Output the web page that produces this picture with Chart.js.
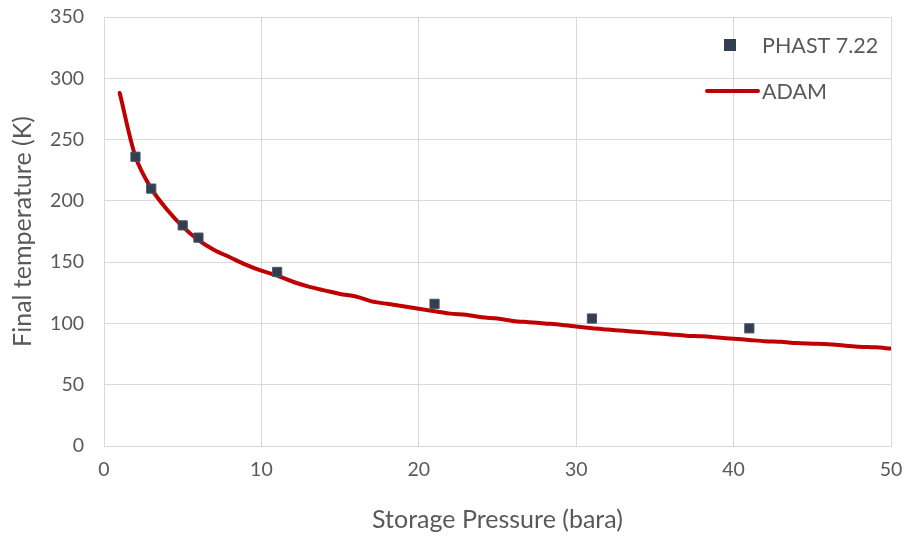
<!DOCTYPE html>
<html>
<head>
<meta charset="utf-8">
<script src="https://cdn.jsdelivr.net/npm/chart.js@4.4.1/dist/chart.umd.min.js"></script>
<style>
  html, body { margin: 0; padding: 0; background: #fff; }
  #wrap { width: 909px; height: 539px; position: relative; }
</style>
</head>
<body>
<div id="wrap"><canvas id="chart"></canvas></div>
<script>
// Storage pressure (bara) vs final temperature (K)
const phastPressure = [2, 3, 5, 6, 11, 21, 31, 41];
const phastTemp = [236, 210, 180, 170, 142, 116, 104, 96];

const adamPressure = [1, 2, 3, 4, 5, 6, 7, 8, 9, 10,
    11, 12, 13, 14, 15, 16, 17, 18, 19, 20,
    21, 22, 23, 24, 25, 26, 27, 28, 29, 30,
    31, 32, 33, 34, 35, 36, 37, 38, 39, 40,
    41, 42, 43, 44, 45, 46, 47, 48, 49, 50];
const adamTemp = [288, 236, 210, 193, 179, 168, 160, 154, 148, 143,
    139, 134, 130, 127, 124, 122, 118, 116, 114, 112,
    110, 108, 107, 105, 104, 102, 101, 100, 99, 97.5,
    96, 95, 94, 93, 92, 91, 90, 89.5, 88.5, 87.5,
    86.5, 85.5, 85, 84, 83.5, 83, 82, 81, 80.5, 79.5];

const seriesNames = ['PHAST 7.22', 'ADAM'];

const FONT = 'Lato, "Open Sans", sans-serif';
const GREY = '#595959';
const GRID = '#D9D9D9';
const NAVY = '#333F50';
const RED = '#C00000';

// Legend in the upper right of the plot
const cornerLegend = {
    id: 'cornerLegend',
    afterDatasetsDraw(chart) {
        const ctx = chart.ctx;
        ctx.save();
        ctx.fillStyle = NAVY;
        ctx.fillRect(724, 39, 12, 12);
        ctx.strokeStyle = RED;
        ctx.lineWidth = 4;
        ctx.lineCap = 'round';
        ctx.beginPath();
        ctx.moveTo(707, 91);
        ctx.lineTo(758, 91);
        ctx.stroke();
        ctx.fillStyle = GREY;
        ctx.font = '21.5px ' + FONT;
        ctx.textBaseline = 'middle';
        ctx.textAlign = 'left';
        ctx.fillText(seriesNames[0], 762, 46);
        ctx.fillText(seriesNames[1], 762, 92);
        ctx.restore();
    }
};

const ctx = document.getElementById('chart').getContext('2d');
new Chart(ctx, {
    type: 'scatter',
    data: {
        datasets: [
            {
                label: seriesNames[0],
                data: phastPressure.map((p, i) => ({ x: p, y: phastTemp[i] })),
                pointStyle: 'rect',
                pointRadius: 6.5,
                backgroundColor: NAVY,
                borderColor: '#4a5566',
                borderWidth: 1,
                showLine: false
            },
            {
                label: seriesNames[1],
                data: adamPressure.map((p, i) => ({ x: p, y: adamTemp[i] })),
                showLine: true,
                borderColor: RED,
                borderWidth: 4,
                pointRadius: 0,
                tension: 0.3,
                borderCapStyle: 'round'
            }
        ]
    },
    options: {
        responsive: true,
        maintainAspectRatio: false,
        animation: false,
        layout: { padding: { top: 17, right: 18, left: 0, bottom: 0 } },
        plugins: {
            legend: { display: false },
            tooltip: { enabled: false }
        },
        scales: {
            x: {
                type: 'linear',
                min: 0,
                max: 50,
                ticks: { stepSize: 10, color: GREY, font: { family: FONT, size: 19.5 }, padding: 12 },
                grid: { color: GRID, drawTicks: false, lineWidth: 1 },
                border: { color: GRID },
                title: { display: true, text: 'Storage Pressure (bara)', color: GREY, font: { family: FONT, size: 25 }, padding: { top: 10 } },
                afterFit(scale) {
                    scale.height = 93;
                    scale.paddingLeft = 0;
                    scale.paddingRight = 0;
                }
            },
            y: {
                min: 0,
                max: 350,
                ticks: { stepSize: 50, color: GREY, font: { family: FONT, size: 19.5 }, padding: 20 },
                grid: { color: GRID, drawTicks: false, lineWidth: 1 },
                border: { color: GRID },
                title: { display: true, text: 'Final temperature (K)', color: GREY, font: { family: FONT, size: 25 }, padding: { top: 8, bottom: 4 } },
                afterFit(scale) {
                    scale.width = 104;
                    scale.paddingTop = 0;
                    scale.paddingBottom = 0;
                }
            }
        }
    },
    plugins: [cornerLegend]
});
</script>
</body>
</html>
